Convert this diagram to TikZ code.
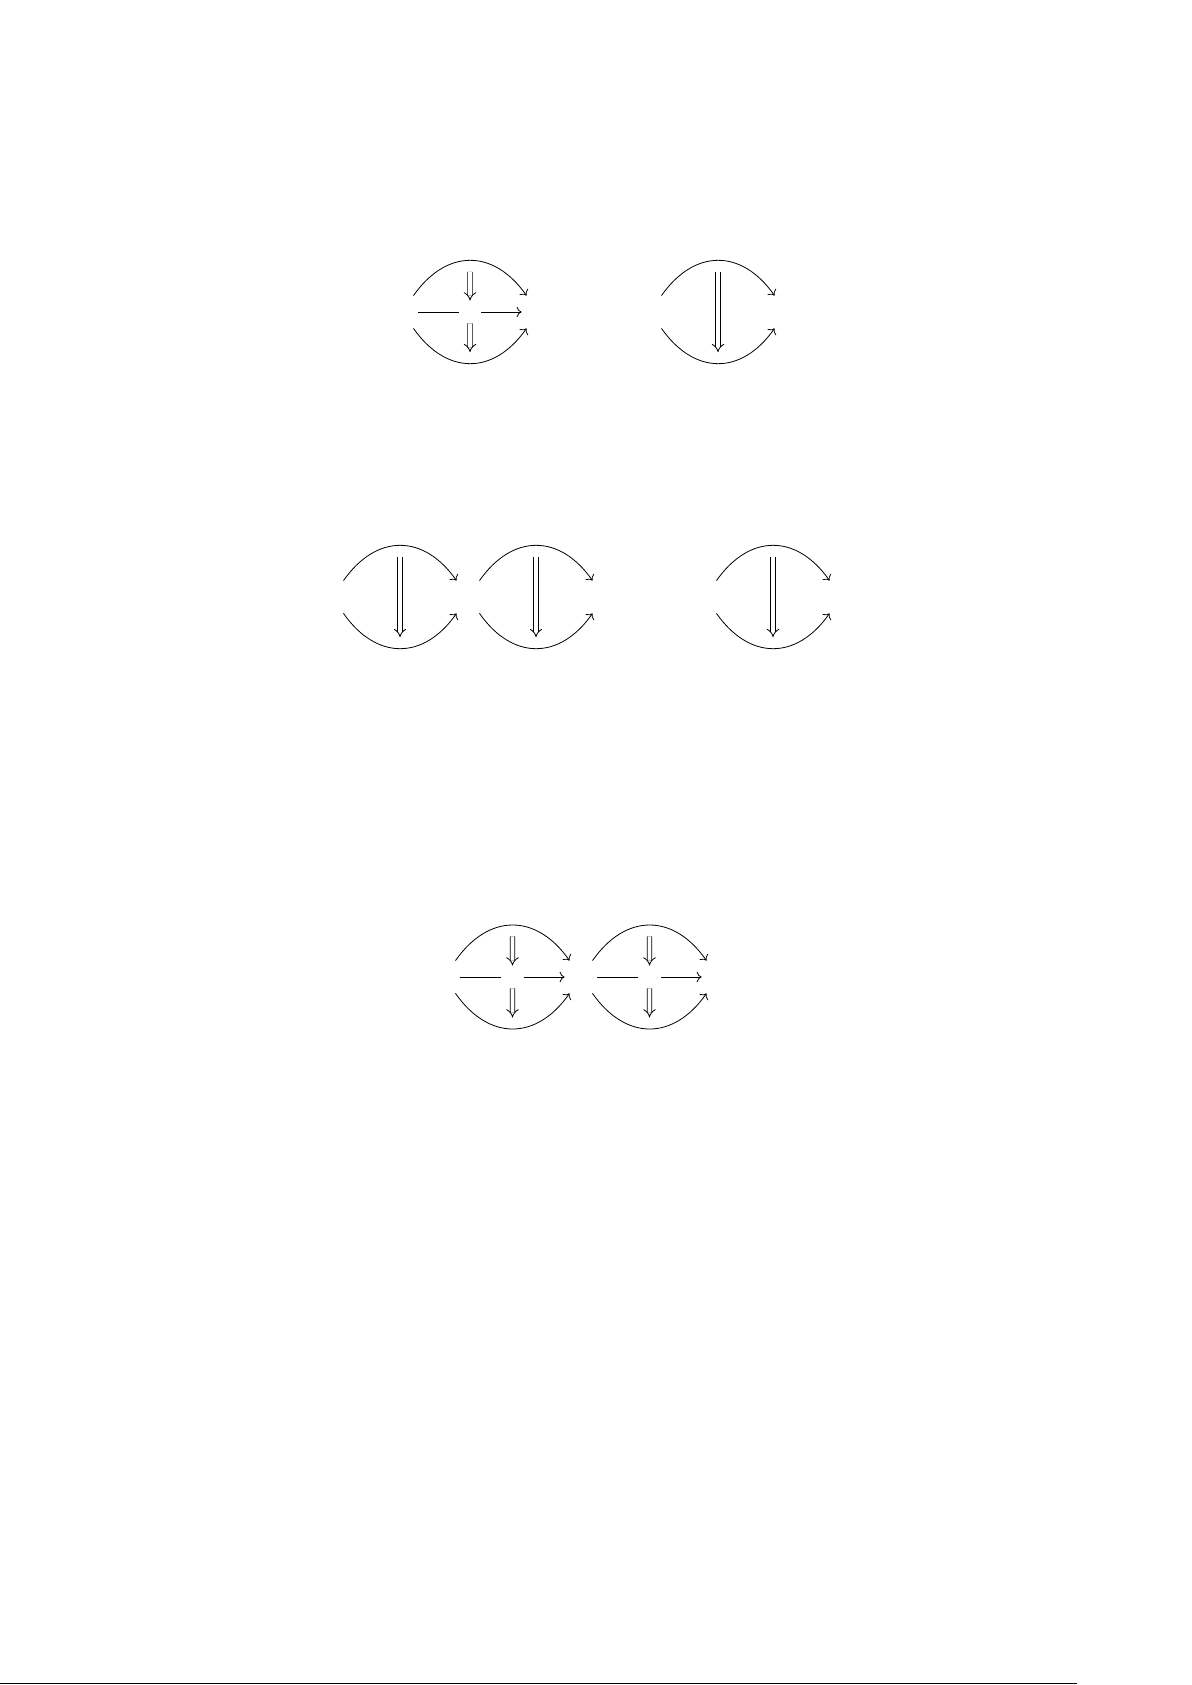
\documentclass[tikz,border=0pt]{standalone}
\usetikzlibrary{arrows.meta}
\begin{document}
\begin{tikzpicture}[x=1pt,y=-1pt,
  obj/.style={inner sep=0pt, minimum width=16pt, minimum height=16pt},
  hole/.style={circle, inner sep=0pt, minimum size=11pt},
  arcup/.style={out=55, in=125, looseness=1.3},
  arcdown/.style={out=-55, in=-125, looseness=1.3},
  cell/.style={double, double distance=1.8pt, -{Implies}}]
\useasboundingbox (0,0) rectangle (596,842.5);

% vertical composite
\node[obj] (a1) at (201,156) {};
\node[obj] (b1) at (269,156) {};
\node[hole] (m1) at (235,156) {};
\draw[->] (a1) to[arcup] node[hole] (u1) {} (b1);
\draw[->] (a1) to[arcdown] node[hole] (d1) {} (b1);
\draw (a1) -- (m1);
\draw[->] (m1) -- (b1);
\draw[cell] (u1) -- (m1);
\draw[cell] (m1) -- (d1);

\node[obj] (a2) at (325,156) {};
\node[obj] (b2) at (393,156) {};
\draw[->] (a2) to[arcup] node[hole] (u2) {} (b2);
\draw[->] (a2) to[arcdown] node[hole] (d2) {} (b2);
\draw[cell] (u2) -- (d2);

% horizontal composite
\node[obj] (a3) at (166,298.5) {};
\node[obj] (b3) at (234,298.5) {};
\node[obj] (c3) at (302,298.5) {};
\draw[->] (a3) to[arcup] node[hole] (u3) {} (b3);
\draw[->] (a3) to[arcdown] node[hole] (d3) {} (b3);
\draw[cell] (u3) -- (d3);
\draw[->] (b3) to[arcup] node[hole] (u4) {} (c3);
\draw[->] (b3) to[arcdown] node[hole] (d4) {} (c3);
\draw[cell] (u4) -- (d4);

\node[obj] (a4) at (352.5,298.5) {};
\node[obj] (b4) at (420.5,298.5) {};
\draw[->] (a4) to[arcup] node[hole] (u5) {} (b4);
\draw[->] (a4) to[arcdown] node[hole] (d5) {} (b4);
\draw[cell] (u5) -- (d5);

% interchange
\node[obj] (a5) at (222,488.5) {};
\node[obj] (b5) at (290.5,488.5) {};
\node[obj] (c5) at (359,488.5) {};
\node[hole] (m5) at (256.25,488.5) {};
\node[hole] (n5) at (324.75,488.5) {};
\draw[->] (a5) to[arcup] node[hole] (u6) {} (b5);
\draw[->] (a5) to[arcdown] node[hole] (d6) {} (b5);
\draw (a5) -- (m5);
\draw[->] (m5) -- (b5);
\draw[cell] (u6) -- (m5);
\draw[cell] (m5) -- (d6);
\draw[->] (b5) to[arcup] node[hole] (u7) {} (c5);
\draw[->] (b5) to[arcdown] node[hole] (d7) {} (c5);
\draw (b5) -- (n5);
\draw[->] (n5) -- (c5);
\draw[cell] (u7) -- (n5);
\draw[cell] (n5) -- (d7);

\draw[line width=0.5pt] (0,841.6) -- (538.5,841.6);
\end{tikzpicture}
\end{document}
